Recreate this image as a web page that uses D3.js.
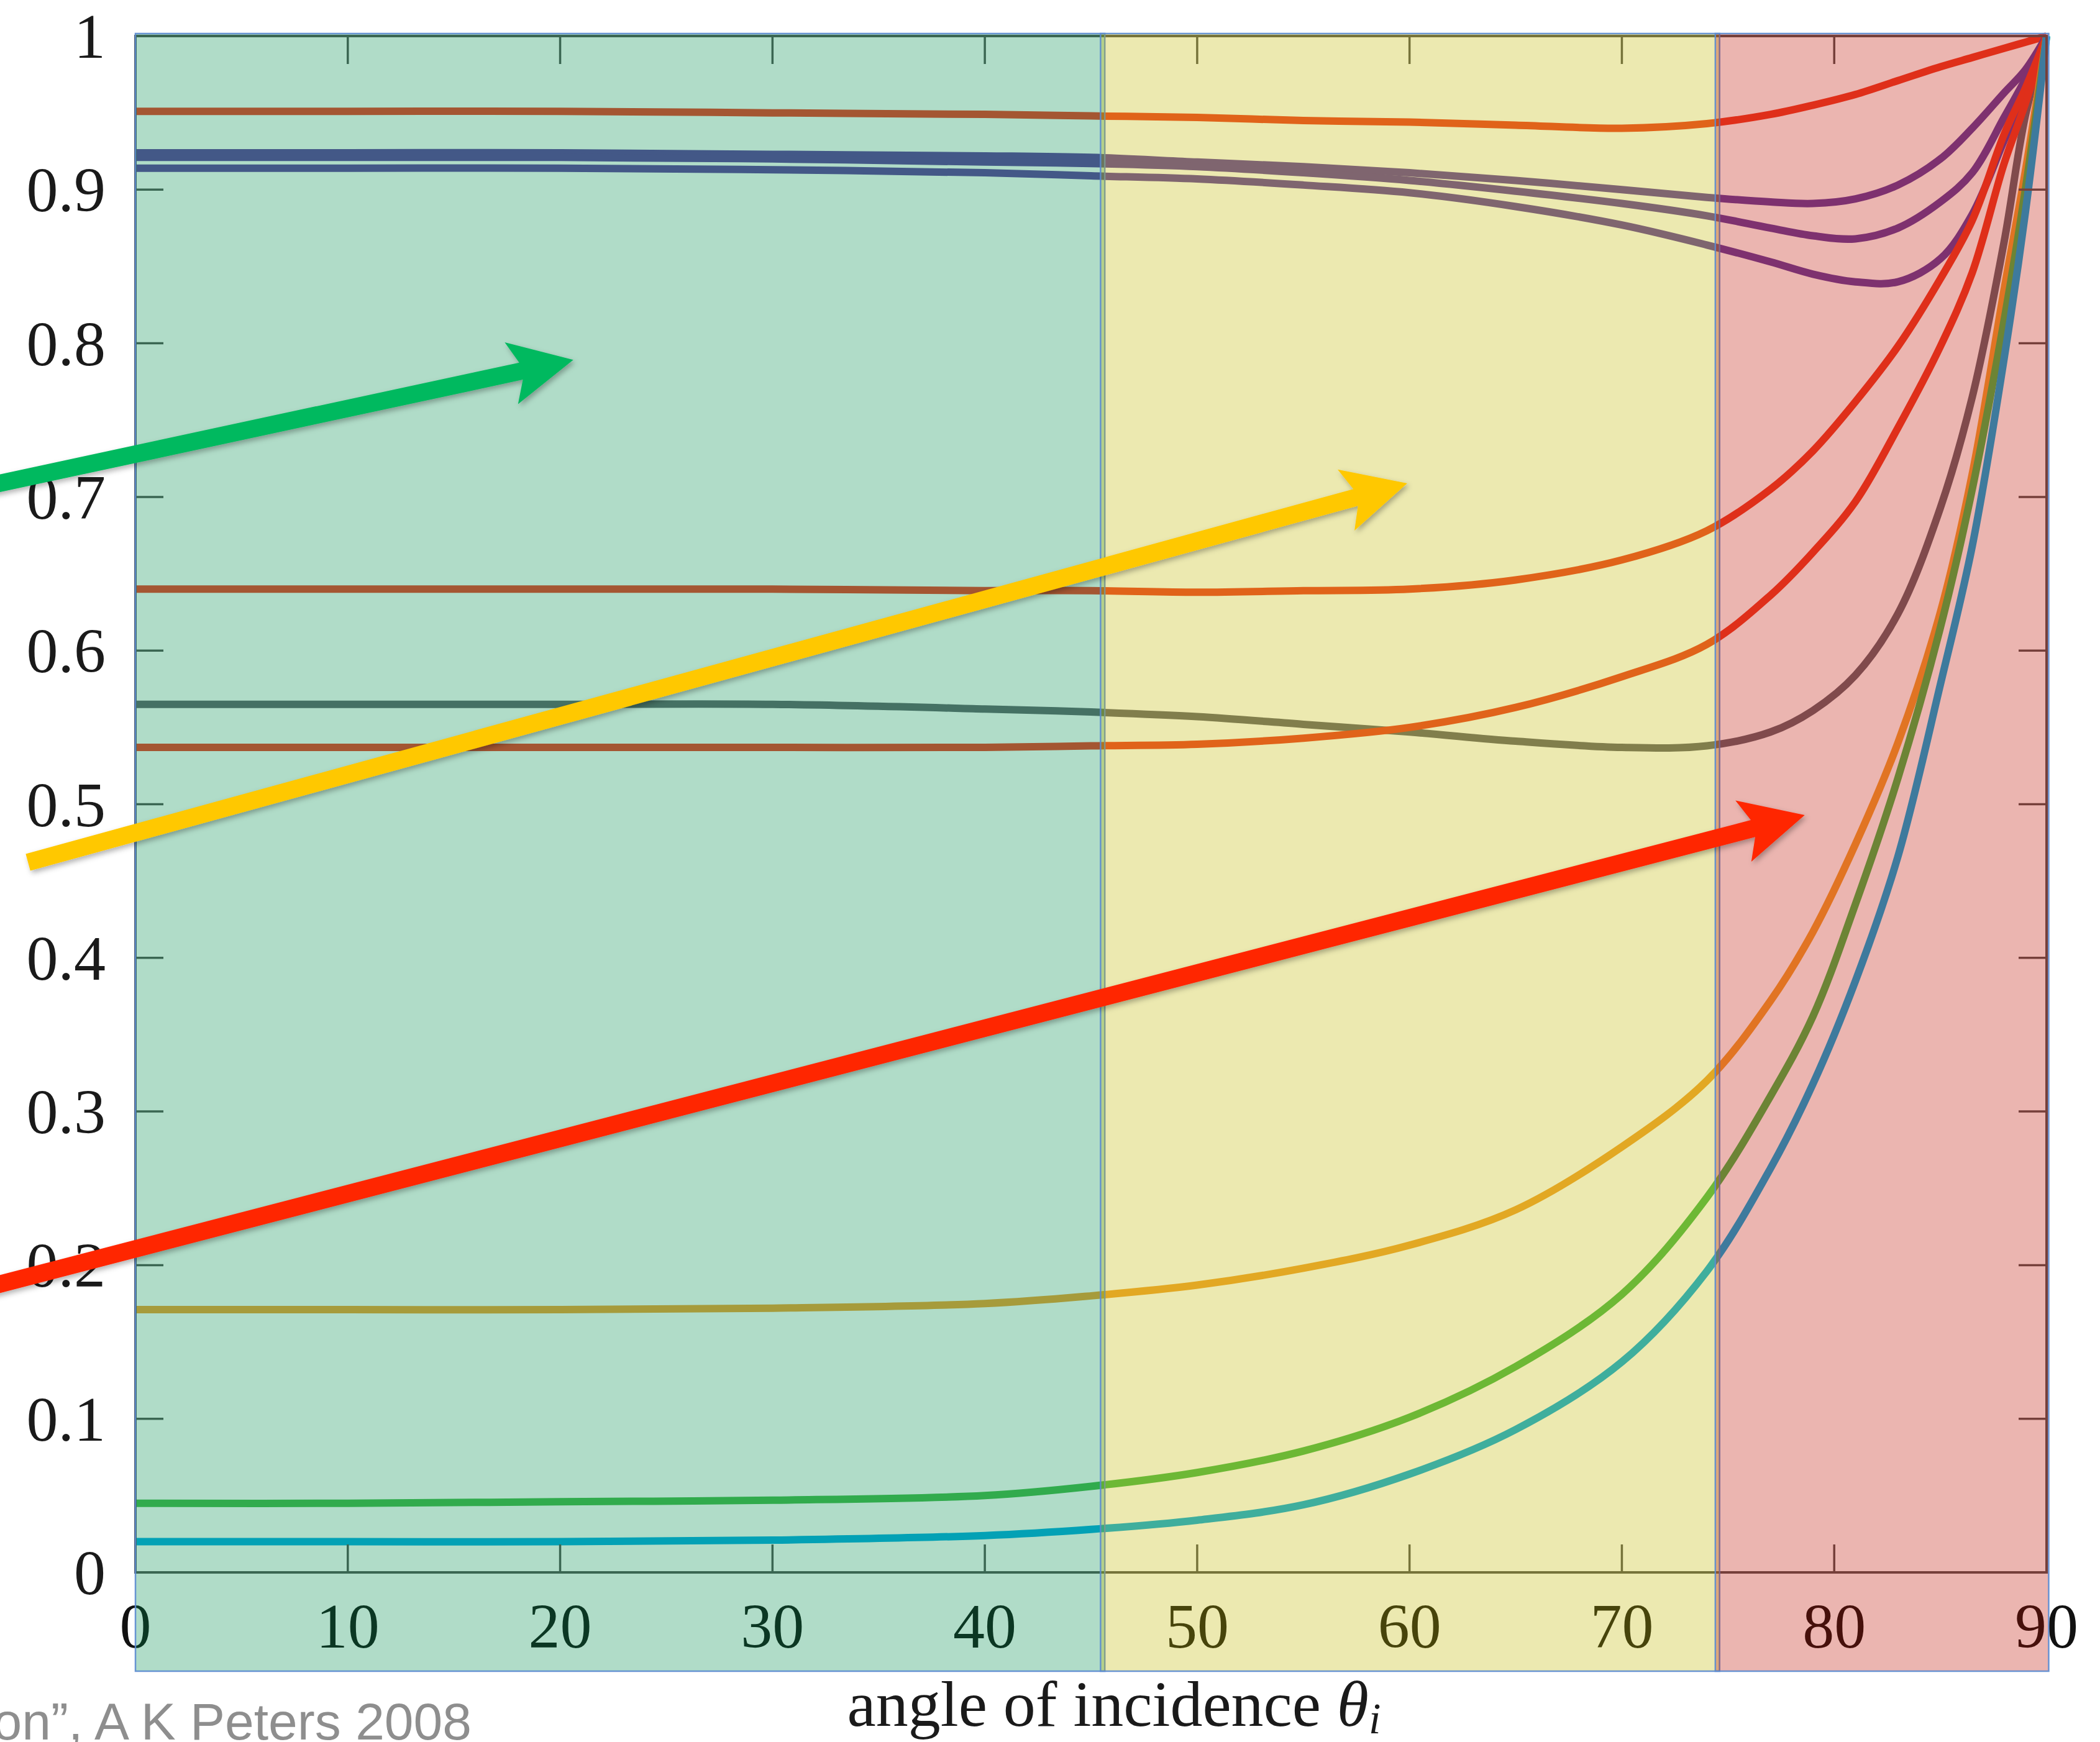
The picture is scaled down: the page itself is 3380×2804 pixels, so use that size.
<!DOCTYPE html>
<html>
<head>
<meta charset="utf-8">
<script src="https://cdn.jsdelivr.net/npm/d3@7"></script>
<style>
  html, body { margin: 0; padding: 0; background: #ffffff; overflow: hidden; }
  svg { display: block; }
</style>
</head>
<body>
<svg id="chart" width="3380" height="2804"></svg>
<script>
// ---------------- DATA ----------------
// angle of incidence (degrees) at which each curve was read
const angles = [0, 10, 20, 30, 40, 45, 50, 55, 60, 65, 70, 74, 77, 79, 81, 83, 85, 86.5, 88, 89, 90];

// Fresnel reflectance curves
const copperR   = [0.951,0.951,0.951,0.950,0.949,0.948,0.947,0.945,0.944,0.942,0.940,0.943,0.949,0.955,0.962,0.971,0.980,0.986,0.992,0.996,1.0];
const aluminumA = [0.924,0.924,0.924,0.923,0.922,0.921,0.918,0.915,0.911,0.906,0.900,0.895,0.892,0.891,0.894,0.903,0.920,0.940,0.963,0.978,1.0];
const aluminumB = [0.921,0.921,0.921,0.920,0.918,0.917,0.915,0.911,0.906,0.899,0.891,0.883,0.875,0.870,0.868,0.875,0.892,0.911,0.947,0.972,1.0];
const aluminumC = [0.914,0.914,0.914,0.913,0.911,0.909,0.907,0.903,0.898,0.889,0.877,0.864,0.853,0.845,0.840,0.840,0.855,0.884,0.932,0.965,1.0];
const copperG   = [0.640,0.640,0.640,0.640,0.639,0.639,0.638,0.639,0.640,0.646,0.659,0.678,0.705,0.730,0.762,0.798,0.842,0.880,0.936,0.966,1.0];
const iron      = [0.565,0.565,0.565,0.565,0.562,0.560,0.557,0.552,0.547,0.541,0.537,0.538,0.547,0.561,0.584,0.624,0.693,0.765,0.866,0.948,1.0];
const copperB   = [0.537,0.537,0.537,0.537,0.537,0.538,0.539,0.543,0.550,0.563,0.583,0.604,0.636,0.664,0.697,0.745,0.798,0.846,0.917,0.956,1.0];
const diamond   = [0.171,0.171,0.171,0.172,0.175,0.180,0.187,0.198,0.213,0.236,0.277,0.320,0.372,0.417,0.474,0.540,0.625,0.715,0.835,0.912,1.0];
const glass     = [0.045,0.045,0.046,0.047,0.050,0.056,0.065,0.079,0.101,0.134,0.181,0.244,0.310,0.362,0.435,0.517,0.615,0.705,0.815,0.900,1.0];
const water     = [0.020,0.020,0.020,0.021,0.024,0.028,0.034,0.044,0.064,0.093,0.137,0.196,0.263,0.318,0.385,0.466,0.578,0.668,0.790,0.885,1.0];

const seriesNames = ["copperR","aluminumA","aluminumB","aluminumC","copperG","iron","copperB","diamond","glass","water"];
const seriesValues = [copperR, aluminumA, aluminumB, aluminumC, copperG, iron, copperB, diamond, glass, water];

// axes
const xTicks = [0, 10, 20, 30, 40, 50, 60, 70, 80, 90];
const xTickLabels = ["0","10","20","30","40","50","60","70","80","90"];
const yTicks = [0, 0.1, 0.2, 0.3, 0.4, 0.5, 0.6, 0.7, 0.8, 0.9, 1];
const yTickLabels = ["0","0.1","0.2","0.3","0.4","0.5","0.6","0.7","0.8","0.9","1"];
const xTitle = "angle of incidence ";
const xTitleSymbol = "θ";
const xTitleSub = "i";
const caption = "“Real-Time Rendering, 3rd Edition”, A K Peters 2008";

// highlighted angle zones (degrees)
const zoneStart = [0, 45.45, 74.4];
const zoneEnd   = [45.65, 74.6, 90.1];

// annotation arrows, tail and tip in (angle, reflectance)
const arrowTailAngle = [-6.96, -5.06, -6.96];
const arrowTailValue = [0.7072, 0.4622, 0.1856];
const arrowTipAngle  = [20.62, 59.89, 78.61];
const arrowTipValue  = [0.7892, 0.7089, 0.4929];

// ---------------- STYLE ----------------
const seriesColors = {
  copperR: "#ee3e26", copperG: "#ee3e26", copperB: "#ee3e26",
  aluminumA: "#6240a1", aluminumB: "#6240a1", aluminumC: "#6240a1",
  iron: "#64646f", diamond: "#f1a134", glass: "#47b94d", water: "#05aae4"
};
const zoneColors = ["#008e4d", "#c2b800", "#be1000"];
const zoneOpacity = 0.31;
const arrowColors = ["#00b95f", "#ffc800", "#ff2600"];
const serif = "'Liberation Serif', 'Times New Roman', serif";
const sans = "'Liberation Sans', Arial, sans-serif";

// ---------------- LAYOUT ----------------
const svg = d3.select("#chart");
const x = d3.scaleLinear().domain([0, 90]).range([218, 3294]);
const y = d3.scaleLinear().domain([0, 1]).range([2531, 58]);
const tickLen = 45;
const zoneBottom = 2690;

svg.append("rect").attr("width", 3380).attr("height", 2804).attr("fill", "#ffffff");

const defs = svg.append("defs");
const sh = defs.append("filter").attr("id", "shadow")
  .attr("x", "-20%").attr("y", "-50%").attr("width", "140%").attr("height", "200%");
sh.append("feDropShadow").attr("dx", 3).attr("dy", 4).attr("stdDeviation", 4)
  .attr("flood-color", "#000").attr("flood-opacity", 0.3);

// ---------------- CURVES ----------------
const line = d3.line()
  .x((d, i) => x(angles[i]))
  .y(d => y(d))
  .curve(d3.curveCatmullRom.alpha(0.5));

svg.append("g").attr("class", "curves")
  .selectAll("path")
  .data(seriesValues)
  .join("path")
  .attr("d", d => line(d))
  .attr("fill", "none")
  .attr("stroke", (d, i) => seriesColors[seriesNames[i]])
  .attr("stroke-width", 12)
  .attr("stroke-linejoin", "round");

// ---------------- AXES FRAME & TICKS ----------------
const axisColor = "#555555";
const axes = svg.append("g").attr("class", "axes");
axes.append("rect")
  .attr("x", x(0)).attr("y", y(1))
  .attr("width", x(90) - x(0)).attr("height", y(0) - y(1))
  .attr("fill", "none").attr("stroke", axisColor).attr("stroke-width", 4);

axes.selectAll("line.xb").data(xTicks).join("line").attr("class", "xb")
  .attr("x1", d => x(d)).attr("x2", d => x(d))
  .attr("y1", y(0)).attr("y2", y(0) - tickLen)
  .attr("stroke", axisColor).attr("stroke-width", 3.5);
axes.selectAll("line.xt").data(xTicks).join("line").attr("class", "xt")
  .attr("x1", d => x(d)).attr("x2", d => x(d))
  .attr("y1", y(1)).attr("y2", y(1) + tickLen)
  .attr("stroke", axisColor).attr("stroke-width", 3.5);
axes.selectAll("line.yl").data(yTicks).join("line").attr("class", "yl")
  .attr("x1", x(0)).attr("x2", x(0) + tickLen)
  .attr("y1", d => y(d)).attr("y2", d => y(d))
  .attr("stroke", axisColor).attr("stroke-width", 3.5);
axes.selectAll("line.yr").data(yTicks).join("line").attr("class", "yr")
  .attr("x1", x(90)).attr("x2", x(90) - tickLen)
  .attr("y1", d => y(d)).attr("y2", d => y(d))
  .attr("stroke", axisColor).attr("stroke-width", 3.5);

// x tick labels (under the zone overlays)
axes.selectAll("text.xl").data(xTicks).join("text").attr("class", "xl")
  .attr("x", d => x(d)).attr("y", 2652)
  .attr("text-anchor", "middle")
  .attr("font-family", serif).attr("font-size", 102).attr("fill", "#111")
  .text((d, i) => xTickLabels[i]);

// ---------------- ZONE OVERLAYS ----------------
svg.append("g").attr("class", "zones")
  .selectAll("rect")
  .data(zoneStart)
  .join("rect")
  .attr("x", (d, i) => x(zoneStart[i]))
  .attr("y", y(1) - 4)
  .attr("width", (d, i) => x(zoneEnd[i]) - x(zoneStart[i]))
  .attr("height", zoneBottom - (y(1) - 4))
  .attr("fill", (d, i) => zoneColors[i])
  .attr("fill-opacity", zoneOpacity)
  .attr("stroke", "#5b8bd0")
  .attr("stroke-width", 2.5)
  .attr("stroke-opacity", 0.9);

// ---------------- Y LABELS, TITLE, CAPTION ----------------
svg.append("g").attr("class", "ylabels")
  .selectAll("text").data(yTicks).join("text")
  .attr("x", 170).attr("y", d => y(d) + 35)
  .attr("text-anchor", "end")
  .attr("font-family", serif).attr("font-size", 102).attr("fill", "#1a1a1a")
  .text((d, i) => yTickLabels[i]);

const title = svg.append("text")
  .attr("x", 1793).attr("y", 2778)
  .attr("text-anchor", "middle")
  .attr("font-family", serif).attr("font-size", 104).attr("fill", "#1a1a1a");
title.append("tspan").text(xTitle);
title.append("tspan").attr("font-style", "italic").text(xTitleSymbol);
title.append("tspan").attr("font-style", "italic").attr("font-size", 70).attr("dy", 12).text(xTitleSub);

svg.append("text")
  .attr("x", 759).attr("y", 2800)
  .attr("text-anchor", "end")
  .attr("font-family", sans).attr("font-size", 84).attr("fill", "#8e8e8e")
  .text(caption);

// ---------------- ARROWS ----------------
function arrowPath(x0, y0, x1, y1) {
  const dx = x1 - x0, dy = y1 - y0, L = Math.hypot(dx, dy);
  const ux = dx / L, uy = dy / L, nx = -uy, ny = ux;
  const P = (u, n) => [x0 + ux * u + nx * n, y0 + uy * u + ny * n];
  const half = 14, headLen = 102, headHalf = 51, shaftEnd = L - 86;
  const pts = [P(0, -half), P(shaftEnd, -half), P(L - headLen, -headHalf), P(L, 0),
               P(L - headLen, headHalf), P(shaftEnd, half), P(0, half)];
  return "M" + pts.map(p => p[0].toFixed(1) + "," + p[1].toFixed(1)).join("L") + "Z";
}

svg.append("g").attr("class", "arrows")
  .selectAll("path")
  .data(arrowTailAngle)
  .join("path")
  .attr("d", (d, i) => arrowPath(x(arrowTailAngle[i]), y(arrowTailValue[i]),
                                 x(arrowTipAngle[i]), y(arrowTipValue[i])))
  .attr("fill", (d, i) => arrowColors[i])
  .attr("filter", "url(#shadow)");
</script>
</body>
</html>
